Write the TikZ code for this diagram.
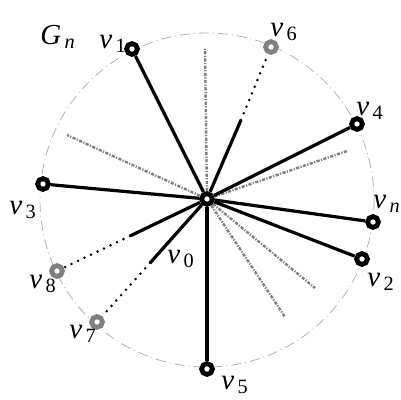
\documentclass[tikz,border=0pt]{standalone}
\usepackage{fontspec}
\setmainfont{Liberation Serif}
\newcommand{\vname}[1]{\textit{v}\textsubscript{\,#1}}
\begin{document}
\begin{tikzpicture}[x=0.5pt, y=-0.5pt,
    vert/.style={circle, draw=black, fill=white, line width=2.4pt, minimum size=5.4pt, inner sep=0pt},
    gvert/.style={vert, draw=gray},
    edge/.style={line width=1.6pt},
    ghost/.style={gray, line width=1.2pt, dash pattern=on 1.6pt off 0.7pt on 0.6pt off 0.7pt},
    dots/.style={line width=1.4pt, line cap=round, dash pattern=on 0pt off 3.6pt},
    lbl/.style={font=\fontsize{14.5}{16}\selectfont}]
    \useasboundingbox (0,0) rectangle (400,400);

    % vòng tròn G_n
    \draw[gray!60, line width=0.4pt, dash pattern=on 5pt off 2pt on 0.5pt off 2pt] (207,200) circle (167);

    % các đỉnh
    \node[vert]  (v0) at (207,199) {};
    \node[vert]  (v1) at (132,49)  {};
    \node[vert]  (v2) at (362,259) {};
    \node[vert]  (v3) at (43,184)  {};
    \node[vert]  (v4) at (357,124) {};
    \node[vert]  (v5) at (207,369) {};
    \node[gvert] (v6) at (271,47)  {};
    \node[gvert] (v7) at (97,322)  {};
    \node[gvert] (v8) at (57,271)  {};
    \node[vert]  (vn) at (373,222) {};

    % các điểm cuối
    \coordinate (g1) at (205,48);
    \coordinate (g2) at (67,135);
    \coordinate (g3) at (347,151);
    \coordinate (g4) at (315,288);
    \coordinate (g5) at (285,317);
    \coordinate (p6) at (241,120);
    \coordinate (p7) at (150,263);
    \coordinate (p8) at (130,236);

    % tia mờ màu xám
    \foreach \g in {g1,g2,g3,g4,g5}
        \draw[ghost] (v0) -- (\g);

    % cạnh
    \foreach \v in {v1,v2,v3,v4,v5,vn}
        \draw[edge] (v0) -- (\v);
    \draw[edge] (v0) -- (p6);
    \draw[edge] (v0) -- (p7);
    \draw[edge] (v0) -- (p8);
    \draw[dots] (p6) -- (v6);
    \draw[dots] (p7) -- (v7);
    \draw[dots] (p8) -- (v8);

    % nhãn
    \node[lbl] (lG) at (58,37)   {\textit{G}\textsubscript{\,\textit{n}}};
    \node[lbl] (l0) at (181,259) {\vname{0}};
    \node[lbl] (l1) at (113,44)  {\vname{1}};
    \node[lbl] (l2) at (381,282) {\vname{2}};
    \node[lbl] (l3) at (23,210)  {\vname{3}};
    \node[lbl] (l4) at (370,111) {\vname{4}};
    \node[lbl] (l5) at (235,385) {\vname{5}};
    \node[lbl] (l6) at (284,32)  {\vname{6}};
    \node[lbl] (l7) at (83,334)  {\vname{7}};
    \node[lbl] (l8) at (43,284)  {\vname{8}};
    \node[lbl] (ln) at (387,204) {\vname{\textit{n}}};
\end{tikzpicture}
\end{document}
